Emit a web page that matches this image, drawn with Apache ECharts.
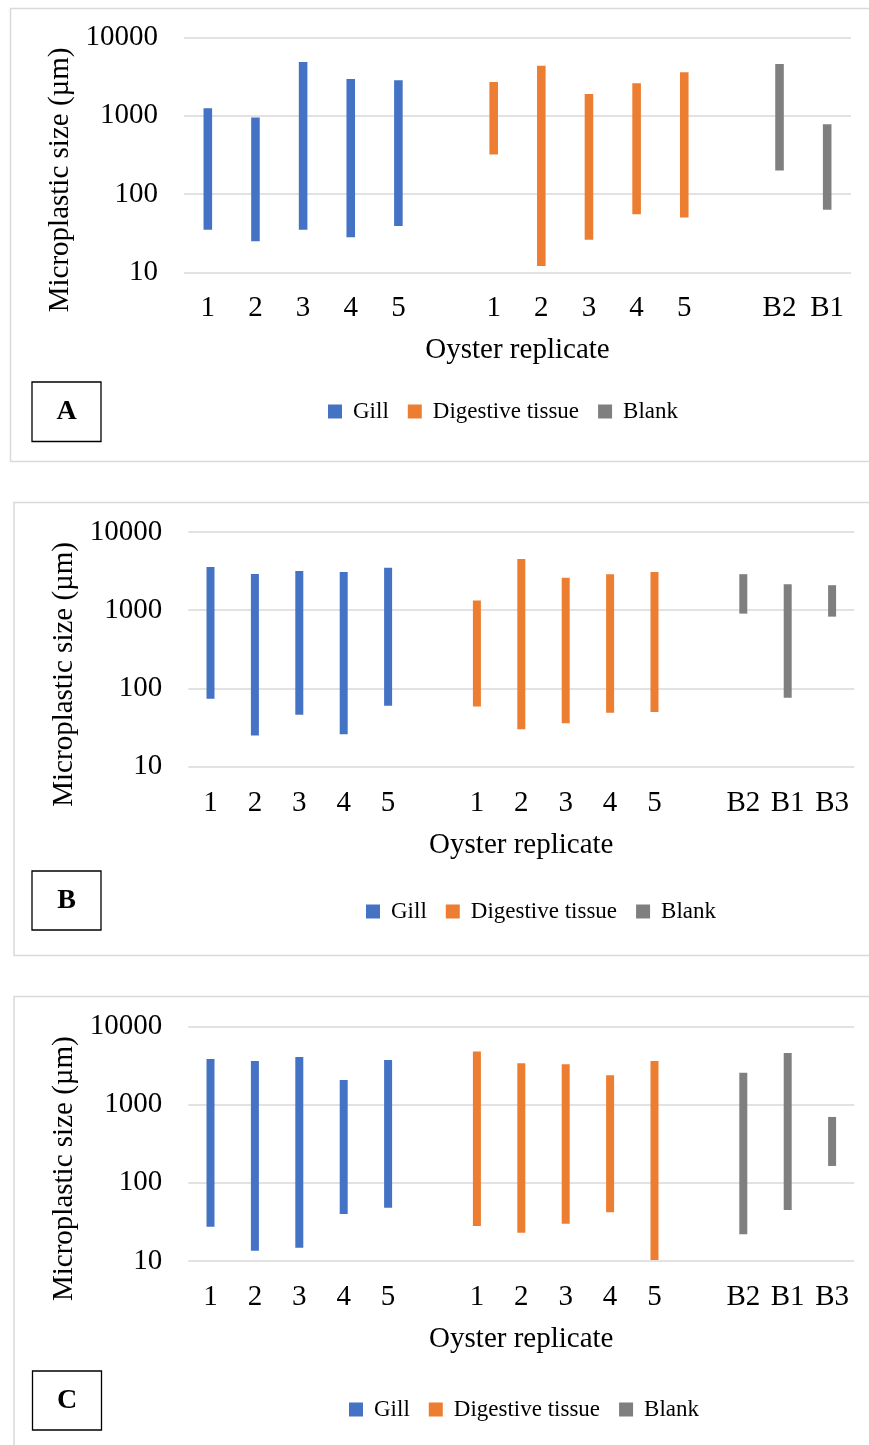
<!DOCTYPE html>
<html>
<head>
<meta charset="utf-8">
<script src="https://cdn.jsdelivr.net/npm/echarts@6/dist/echarts.min.js"></script>
<style>
  html, body { margin: 0; padding: 0; background: #fff; }
  #chart { width: 869px; height: 1445px; }
</style>
</head>
<body>
<div id="chart"></div>
<script>
// x-axis tick labels (blank entries are the gaps between groups)
const catsA = ['1', '2', '3', '4', '5', '', '1', '2', '3', '4', '5', '', 'B2', 'B1']
const catsBC = ['1', '2', '3', '4', '5', '', '1', '2', '3', '4', '5', '', 'B2', 'B1', 'B3']
const yTicks = [10, 100, 1000, 10000]

// Panel A: min / max microplastic size (µm)
const gillLowA = [35, 25, 35, 28, 39]
const gillHighA = [1250, 950, 4850, 2950, 2850]
const digLowA = [320, 12, 26, 55, 50]
const digHighA = [2700, 4350, 1900, 2600, 3600]
const blankLowA = [200, 63]
const blankHighA = [4600, 780]

// Panel B
const gillLowB = [74, 25, 46, 26, 60]
const gillHighB = [3580, 2900, 3180, 3090, 3480]
const digLowB = [59, 30, 36, 49, 50]
const digHighB = [1330, 4530, 2610, 2890, 3090]
const blankLowB = [905, 76, 828]
const blankHighB = [2890, 2150, 2090]

// Panel C
const gillLowC = [27.5, 13.5, 14.8, 40, 48]
const gillHighC = [3830, 3610, 4060, 2060, 3720]
const digLowC = [28, 23, 30, 42, 10.3]
const digHighC = [4750, 3380, 3280, 2370, 3610]
const blankLowC = [22, 45, 164]
const blankHighC = [2540, 4570, 694]

const FONT = '"Times New Roman", "Liberation Serif", serif'
const COLORS = { 'Gill': '#4472C4', 'Digestive tissue': '#ED7D31', 'Blank': '#7F7F7F' }

const panels = [
  {
    cats: catsA, letter: 'A',
    grid: { left: 184, right: 18, top: 37.5, height: 234.8 },
    frame: { x: 10.5, y: 8.5, height: 453 },
    box: { x: 32, y: 382, width: 69, height: 59.5 },
    legend: { left: 328, top: 400 },
    groups: [
      ['Gill', 0, gillLowA, gillHighA],
      ['Digestive tissue', 6, digLowA, digHighA],
      ['Blank', 12, blankLowA, blankHighA],
    ],
  },
  {
    cats: catsBC, letter: 'B',
    grid: { left: 188.3, right: 14.7, top: 532, height: 234.7 },
    frame: { x: 14, y: 502.5, height: 453 },
    box: { x: 32, y: 871, width: 69, height: 59 },
    legend: { left: 366, top: 900 },
    groups: [
      ['Gill', 0, gillLowB, gillHighB],
      ['Digestive tissue', 6, digLowB, digHighB],
      ['Blank', 12, blankLowB, blankHighB],
    ],
  },
  {
    cats: catsBC, letter: 'C',
    grid: { left: 188.3, right: 14.7, top: 1026.3, height: 234.7 },
    frame: { x: 14, y: 996.5, height: 500 },
    box: { x: 32.5, y: 1371, width: 69, height: 59 },
    legend: { left: 349, top: 1398 },
    groups: [
      ['Gill', 0, gillLowC, gillHighC],
      ['Digestive tissue', 6, digLowC, digHighC],
      ['Blank', 12, blankLowC, blankHighC],
    ],
  },
]

const BAR_RATIO = 0.18

const renderRange = (params, api) => {
  const x = api.value(0)
  const lo = api.coord([x, api.value(1)])
  const hi = api.coord([x, api.value(2)])
  const w = api.size([1, 1], [x, 100])[0] * BAR_RATIO
  return {
    type: 'rect',
    shape: { x: lo[0] - w / 2, y: hi[1], width: w, height: lo[1] - hi[1] },
    style: { fill: api.visual('color') },
  }
}

const grid = []
const xAxis = []
const yAxis = []
const legend = []
const series = []
const graphic = []

panels.forEach((p, idx) => {
  grid.push(p.grid)

  xAxis.push({
    type: 'category',
    gridIndex: idx,
    data: p.cats,
    name: 'Oyster replicate',
    nameLocation: 'middle',
    nameGap: 64,
    nameTextStyle: { fontFamily: FONT, fontSize: 29, color: '#000' },
    axisLine: { show: false },
    axisTick: { show: false },
    axisLabel: { interval: 0, fontFamily: FONT, fontSize: 29, color: '#000', margin: 22 },
  })

  yAxis.push({
    type: 'log',
    logBase: 10,
    gridIndex: idx,
    min: yTicks[0],
    max: yTicks[yTicks.length - 1],
    name: 'Microplastic size (µm)',
    nameLocation: 'middle',
    nameGap: 94,
    // push the title down along the axis, like the original layout
    nameTextStyle: { fontFamily: FONT, fontSize: 29, color: '#000', padding: [0, 50, 0, 0] },
    axisLine: { show: false },
    axisTick: { show: false },
    axisLabel: {
      fontFamily: FONT, fontSize: 29, color: '#000', margin: 26,
      formatter: (v) => String(Math.round(v)),
    },
    splitLine: { lineStyle: { color: '#D9D9D9', width: 1.5 } },
  })

  legend.push({
    left: p.legend.left,
    top: p.legend.top,
    padding: 0,
    icon: 'rect',
    itemWidth: 14,
    itemHeight: 14,
    itemGap: 19,
    data: ['Gill', 'Digestive tissue', 'Blank'],
    textStyle: { fontFamily: FONT, fontSize: 23, color: '#000', padding: [0, 0, 0, 6] },
  })

  p.groups.forEach(([name, start, lows, highs]) => {
    series.push({
      type: 'custom',
      name,
      xAxisIndex: idx,
      yAxisIndex: idx,
      itemStyle: { color: COLORS[name] },
      encode: { x: 0, y: [1, 2] },
      renderItem: renderRange,
      data: lows.map((lo, i) => [start + i, lo, highs[i]]),
    })
  })

  // panel frame and letter box
  graphic.push({
    type: 'rect',
    z: -10,
    shape: { x: p.frame.x, y: p.frame.y, width: 880, height: p.frame.height },
    style: { fill: 'none', stroke: '#D9D9D9', lineWidth: 1.5 },
  })
  graphic.push({
    type: 'rect',
    shape: { x: p.box.x, y: p.box.y, width: p.box.width, height: p.box.height },
    style: { fill: '#fff', stroke: '#000', lineWidth: 1.3 },
  })
  graphic.push({
    type: 'text',
    x: p.box.x + p.box.width / 2,
    y: p.box.y + p.box.height / 2,
    style: {
      text: p.letter,
      font: 'bold 28px ' + FONT,
      fill: '#000',
      align: 'center',
      verticalAlign: 'middle',
    },
  })
})

const chart = echarts.init(document.getElementById('chart'), null, { renderer: 'canvas' })
chart.setOption({
  animation: false,
  backgroundColor: '#fff',
  grid,
  xAxis,
  yAxis,
  legend,
  series,
  graphic,
})
</script>
</body>
</html>
